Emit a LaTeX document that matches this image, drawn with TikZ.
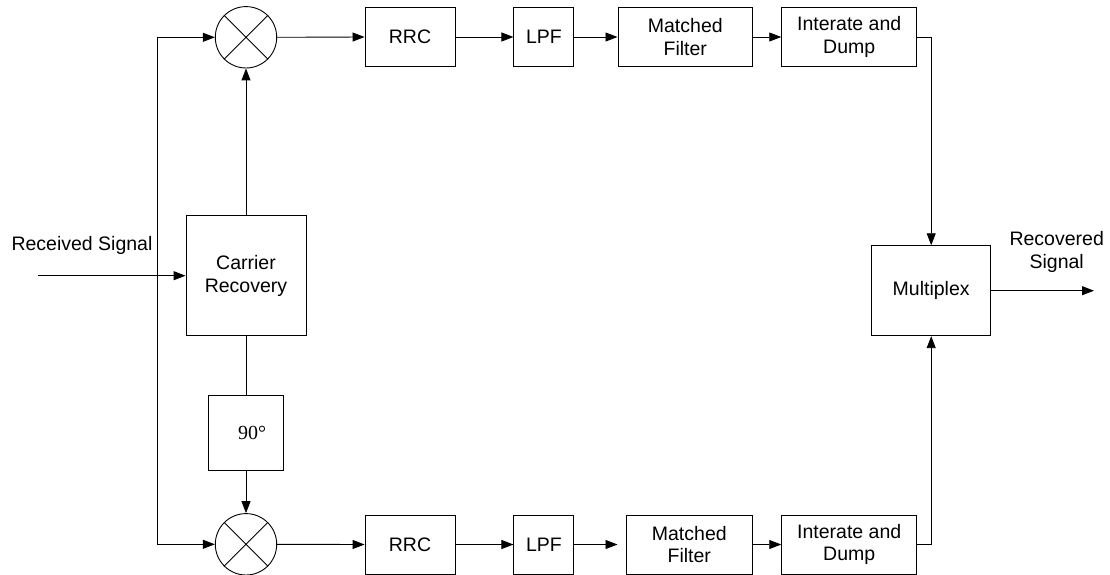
\documentclass[tikz,border=0pt]{standalone}
\usepackage{fontspec}
\setmainfont{Liberation Sans}
\newfontfamily\serifnum{Liberation Serif}
\usetikzlibrary{arrows.meta}
\begin{document}
\begin{tikzpicture}[x=1pt,y=-1pt,
  txt/.style={font=\fontsize{19.5}{22.7}\selectfont, inner sep=0pt, align=center},
  box/.style={txt, draw, rectangle, line width=0.9pt},
  mix/.style={draw, circle, minimum size=61.4pt, inner sep=0pt, line width=0.9pt},
  wire/.style={line width=0.9pt},
  conn/.style={wire, -{Triangle[length=12pt,width=9pt]}}]
\useasboundingbox (0,0) rectangle (1110,575);
% top branch
\node[box, minimum width=90pt, minimum height=59.4pt] (rrc1) at (410,37) {RRC};
\node[box, minimum width=60pt, minimum height=59.4pt] (lpf1) at (543.9,37) {LPF};
\node[box, minimum width=134.7pt, minimum height=59.4pt] (mf1) at (685.3,37) {Matched\\Filter};
\node[box, minimum width=135pt, minimum height=59.4pt] (id1) at (849.2,37) {Interate and\\Dump};
% bottom branch
\node[box, minimum width=90pt, minimum height=59pt] (rrc2) at (410,544.5) {RRC};
\node[box, minimum width=60pt, minimum height=59pt] (lpf2) at (543.9,544.5) {LPF};
\node[box, minimum width=126.7pt, minimum height=59pt] (mf2) at (689.3,544.5) {Matched\\Filter};
\node[box, minimum width=135pt, minimum height=59pt] (id2) at (849.2,544.5) {Interate and\\Dump};
% others
\node[box, minimum width=120pt, minimum height=120pt] (cr) at (246,275.7) {Carrier\\Recovery};
\node[box, minimum width=74.6pt, minimum height=74.3pt, font=\serifnum\fontsize{20}{24}\selectfont] (ph) at (246,432.8) {\hspace*{12pt}90°};
\node[box, minimum width=119pt, minimum height=90pt] (mux) at (931.2,290.7) {Multiplex};
\node[mix] (m1) at (246,37.3) {};
\node[mix] (m2) at (246,544.3) {};
\draw[wire] (m1.north west) -- (m1.south east) (m1.north east) -- (m1.south west);
\draw[wire] (m2.north west) -- (m2.south east) (m2.north east) -- (m2.south west);
\node[txt] (rx) at (82,245) {Received Signal};
\node[txt] (ro) at (1056.7,252.3) {Recovered\\Signal};
% coordinates
\coordinate (in) at (38,275.7);
\coordinate (sT) at (157,37.3);
\coordinate (sB) at (157,544.3);
\coordinate (out) at (1094,290.7);
% connectors
\draw[conn] (in) -- (cr.west);
\draw[wire] (sT) -- (sB);
\draw[conn] (sT) -- (m1.west);
\draw[conn] (sB) -- (m2.west);
\draw[conn] (cr.north) -- (m1.south);
\draw[wire] (cr.south) -- (ph.north);
\draw[conn] (ph.south) -- (m2.north);
\draw[conn] (m1.east) -- (rrc1.west);
\draw[conn] (rrc1.east) -- (lpf1.west);
\draw[conn] (lpf1.east) -- (mf1.west);
\draw[conn] (mf1.east) -- (id1.west);
\draw[conn] (m2.east) -- (rrc2.west);
\draw[conn] (rrc2.east) -- (lpf2.west);
\draw[conn, shorten >=8pt] (lpf2.east) -- (mf2.west);
\draw[conn] (mf2.east) -- (id2.west);
\draw[conn] (id1.east) -| (mux.north);
\draw[conn] (id2.east) -| (mux.south);
\draw[conn] (mux.east) -- (out);
\end{tikzpicture}
\end{document}
